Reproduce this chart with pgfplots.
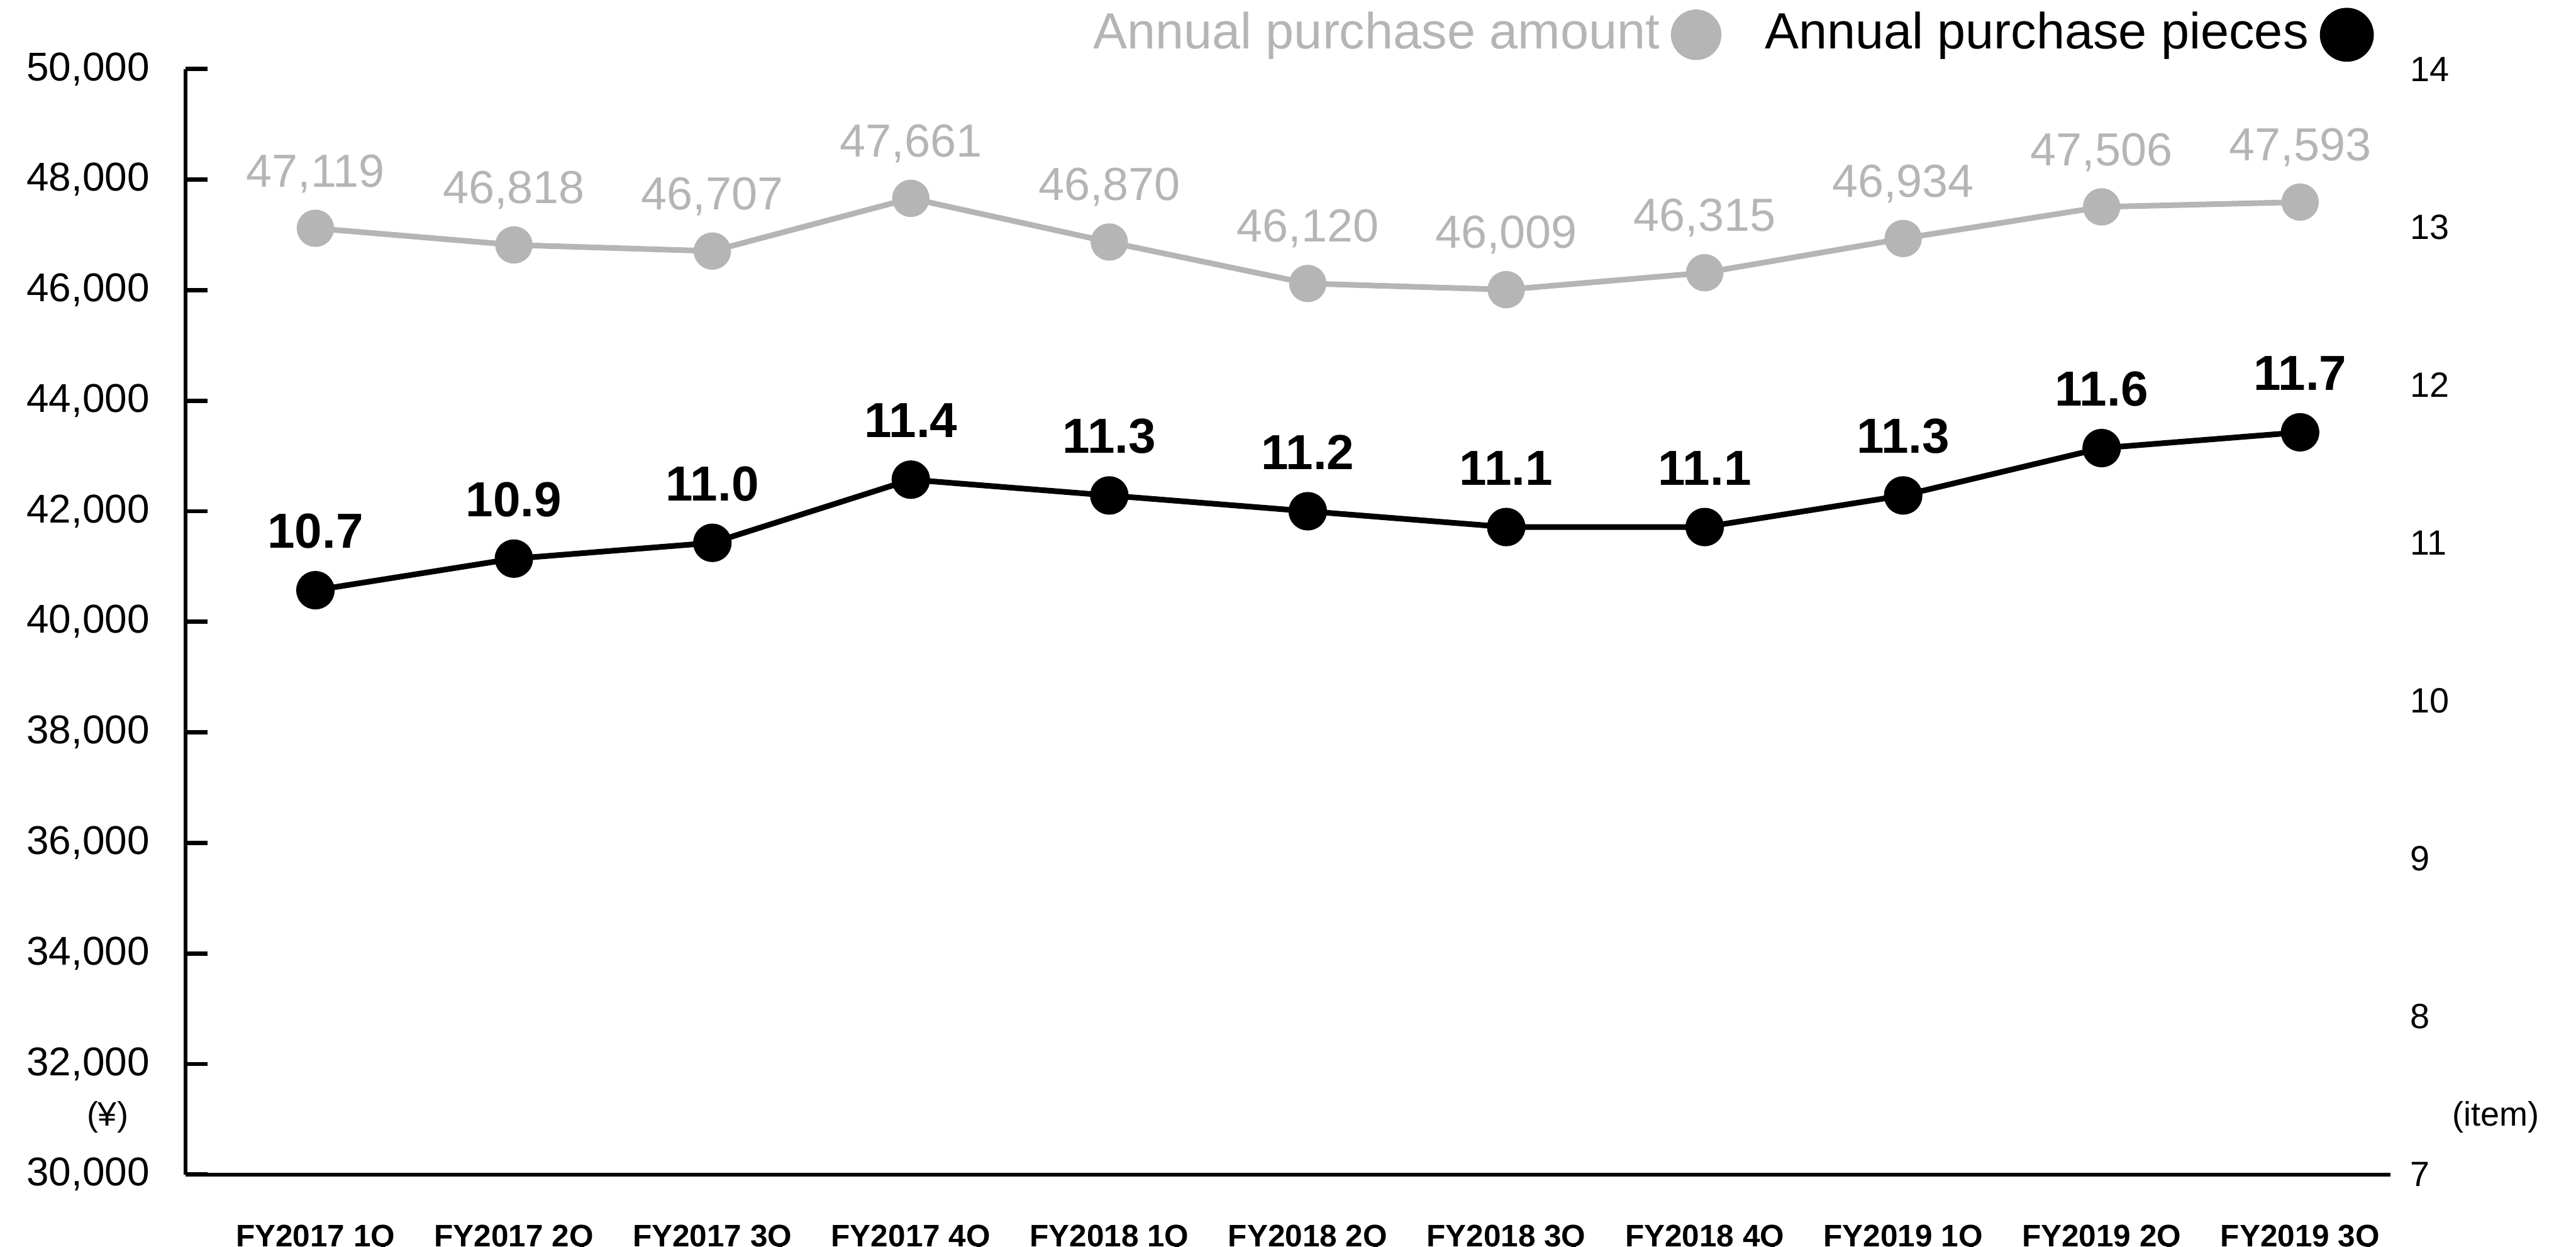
\documentclass[border=0pt]{standalone}
\usepackage{pgfplots}
\pgfplotsset{compat=1.18}
\usepackage{fontspec}
\setmainfont{Liberation Sans}
\definecolor{lg}{RGB}{181,181,181}

\begin{document}
\begin{tikzpicture}
\useasboundingbox (-1.153,-0.449) rectangle (14.847,7.296);
\begin{axis}[
  scale only axis, width=13.694cm, height=6.867cm,
  xmin=-0.654, xmax=10.455, ymin=30000, ymax=50000,
  axis x line*=bottom, axis y line*=left,
  axis line style={line width=0.65pt, -},
  xtick={0,...,10},
  xticklabels={FY2017 1Q,FY2017 2Q,FY2017 3Q,FY2017 4Q,FY2018 1Q,FY2018 2Q,FY2018 3Q,FY2018 4Q,FY2019 1Q,FY2019 2Q,FY2019 3Q},
  x tick style={draw=none},
  xticklabel style={font=\fontsize{5.5}{6.5}\selectfont\bfseries, yshift=-0.19cm},
  ytick={30000,32000,...,50000},
  scaled y ticks=false,
  yticklabel={\pgfmathprintnumber[fixed,precision=0,1000 sep={,},assume math mode=true]{\tick}},
  tick align=inside, major tick length=0.135cm,
  y tick style={line width=0.75pt, black},
  yticklabel style={font=\fontsize{7.1}{8}\selectfont, xshift=-0.1cm},
  clip=false,
]
\addplot[lg, line width=1pt, mark=*, mark size=2.8pt,
  mark options={solid, fill=lg, draw=lg},
  point meta=y,
  nodes near coords={\pgfmathprintnumber[fixed,precision=0,1000 sep={,},assume math mode=true]{\pgfplotspointmeta}},
  nodes near coords style={font=\fontsize{8.2}{9}\selectfont, text=lg, anchor=center, yshift=0.34cm}]
  coordinates {(0,47119) (1,46818) (2,46707) (3,47661) (4,46870) (5,46120) (6,46009) (7,46315) (8,46934) (9,47506) (10,47593)};
\node[font=\fontsize{6}{7}\selectfont, xshift=-0.485cm, yshift=0.357cm] at (rel axis cs:0,0) {(¥)};
\end{axis}
\begin{axis}[
  scale only axis, width=13.694cm, height=6.867cm,
  xmin=-0.654, xmax=10.455, ymin=7, ymax=14,
  axis x line=none, axis y line*=right,
  y axis line style={draw=none},
  ytick={7,...,14}, major tick length=0pt,
  yticklabel style={font=\fontsize{6.2}{7}\selectfont, xshift=0.0cm},
  /pgf/number format/assume math mode=true,
  clip=false,
  legend plot pos=right,
  legend columns=2,
  legend style={draw=none, fill=none, inner sep=0pt, font=\fontsize{9}{10}\selectfont,
    at={(0.993,1.031)}, anchor=east,
    /tikz/every even column/.append style={column sep=0.2cm}},
]
\addlegendimage{legend image code/.code={\fill[lg] (0.15cm,0cm) circle (0.15cm);}}
\addlegendentry{\textcolor{lg}{Annual purchase amount}}
\addplot[black, line width=1pt, mark=*, mark size=2.9pt,
  mark options={solid, fill=black},
  legend image code/.code={\fill[black] (0.15cm,0cm) circle (0.15cm);},
  point meta=y,
  nodes near coords={\pgfmathprintnumber[fixed,precision=1,fixed zerofill,assume math mode=true]{\pgfplotspointmeta}},
  nodes near coords style={font=\fontsize{8.7}{10}\selectfont\bfseries, text=black, anchor=center, yshift=0.367cm}]
  coordinates {(0,10.7) (1,10.9) (2,11.0) (3,11.4) (4,11.3) (5,11.2) (6,11.1) (7,11.1) (8,11.3) (9,11.6) (10,11.7)};
\addlegendentry{Annual purchase pieces}
\node[font=\fontsize{6}{7}\selectfont, xshift=0.653cm, yshift=0.357cm] at (rel axis cs:1,0) {(item)};
\end{axis}
\end{tikzpicture}
\end{document}
